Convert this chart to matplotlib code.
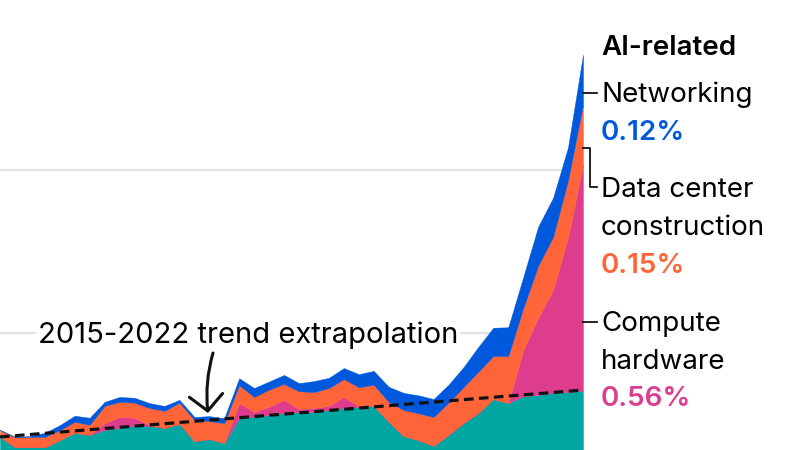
import matplotlib
matplotlib.use("Agg")
import matplotlib.pyplot as plt
from matplotlib.lines import Line2D
import numpy as np

# contributions, percentage points, quarterly (last 40 quarters visible)
base = [0.145, 0.120, 0.120, 0.120, 0.137, 0.155, 0.150, 0.162, 0.167, 0.172,
        0.172, 0.167, 0.177, 0.135, 0.140, 0.130, 0.191, 0.194, 0.199, 0.204,
        0.206, 0.206, 0.211, 0.216, 0.218, 0.221, 0.182, 0.147, 0.137, 0.123,
        0.150, 0.179, 0.204, 0.238, 0.228, 0.245, 0.248, 0.253, 0.255, 0.258]
compute = [0, 0, 0, 0, 0, 0, 0, 0.017, 0.027, 0.020,
           0.002, 0, 0, 0, 0, 0, 0.037, 0.012, 0.020, 0.032,
           0.007, 0.010, 0.010, 0.027, 0.002, 0, 0, 0, 0, 0,
           0, 0, 0, 0, 0, 0.113, 0.189, 0.253, 0.380, 0.555]
datacenter = [0.017, 0.025, 0.025, 0.025, 0.025, 0.027, 0.025, 0.042, 0.037, 0.037,
              0.042, 0.042, 0.052, 0.052, 0.044, 0.049, 0.044, 0.037, 0.042, 0.039,
              0.044, 0.039, 0.044, 0.044, 0.047, 0.052, 0.049, 0.064, 0.066, 0.071,
              0.079, 0.088, 0.101, 0.106, 0.115, 0.103, 0.128, 0.130, 0.140, 0.147]
networking = [0, 0, 0.002, 0.010, 0.012, 0.015, 0.017, 0.010, 0.012, 0.012,
              0.012, 0.012, 0.007, 0.007, 0.012, 0.012, 0.017, 0.022, 0.020, 0.022,
              0.020, 0.027, 0.025, 0.027, 0.032, 0.034, 0.037, 0.042, 0.044, 0.044,
              0.044, 0.049, 0.061, 0.069, 0.071, 0.076, 0.096, 0.096, 0.081, 0.123]
trend_x = [0, 39]
trend_y = [0.145, 0.260]

c_base = "#00a6a2"
c_compute = "#de3d8e"
c_dc = "#ff6538"
c_net = "#0058dc"

plt.rcParams["font.family"] = ["Inter", "DejaVu Sans"]

fig = plt.figure(figsize=(8, 4.5), dpi=100)
ax = fig.add_axes([0, 0, 583 / 800, 1])
x = np.arange(len(base))

for g in [0.4, 0.8]:
    ax.axhline(g, color="#e2e2e2", lw=1.6, zorder=0)

cols = [c_base, c_compute, c_dc, c_net]
ax.stackplot(x, base, compute, datacenter, networking, colors=cols,
             edgecolor="face", linewidth=0.3, zorder=2)
ax.plot(trend_x, trend_y, color="#111111", lw=2.3, dashes=(3.0, 1.7), zorder=3)

ax.set_xlim(0, 39)
ax.set_ylim((496 - 450) / 407.5, 496 / 407.5)
ax.axis("off")


def px(xp, yp):
    return xp / 800, 1 - yp / 450


fs = 20
fig.text(*px(601, 55), "AI-related", fontsize=fs, fontweight="semibold", va="baseline")
fig.text(*px(601, 102), "Networking", fontsize=fs, va="baseline")
fig.text(*px(601, 140), "0.12%", fontsize=fs, fontweight="semibold", color=c_net, va="baseline")
fig.text(*px(601, 197), "Data center", fontsize=fs, va="baseline")
fig.text(*px(601, 235), "construction", fontsize=fs, va="baseline")
fig.text(*px(601, 273), "0.15%", fontsize=fs, fontweight="semibold", color=c_dc, va="baseline")
fig.text(*px(601, 331), "Compute", fontsize=fs, va="baseline")
fig.text(*px(601, 369), "hardware", fontsize=fs, va="baseline")
fig.text(*px(601, 406), "0.56%", fontsize=fs, fontweight="semibold", color=c_compute, va="baseline")

# connectors
for pts in [[(583, 93), (597, 93)],
            [(583, 148), (590, 148), (590, 187), (597, 187)],
            [(583, 322), (597, 322)]]:
    xs = [p[0] / 800 for p in pts]
    ys = [1 - p[1] / 450 for p in pts]
    fig.add_artist(Line2D(xs, ys, color="#111111", lw=1.3, transform=fig.transFigure))

fig.text(*px(248, 343), "2015-2022 trend extrapolation", fontsize=21,
         ha="center", va="baseline",
         bbox=dict(facecolor="white", edgecolor="none", pad=1))
ax.annotate("", xy=(208, 450 - 413), xycoords="figure pixels",
            xytext=(213, 450 - 353), textcoords="figure pixels",
            arrowprops=dict(arrowstyle="->,head_length=0.75,head_width=0.8",
                            connectionstyle="arc3,rad=0.1", color="#111111",
                            lw=2.2, mutation_scale=15, shrinkA=0, shrinkB=0),
            zorder=5)

fig.savefig("out.png", dpi=100)
